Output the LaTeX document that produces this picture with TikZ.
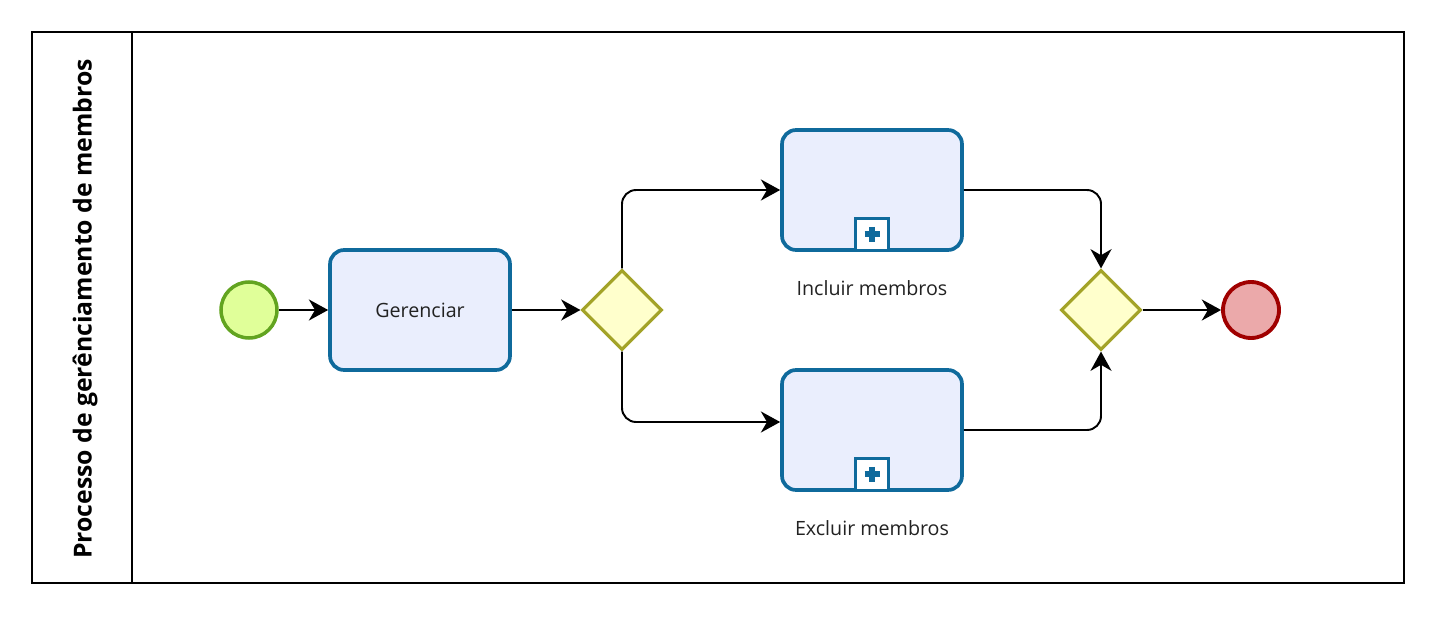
\documentclass[tikz,border=0pt]{standalone}
\usepackage{fontspec}
\setmainfont{Open Sans}
\usepackage{tikz}
\usetikzlibrary{positioning,arrows.meta,shapes.geometric,calc}
\definecolor{taskfill}{HTML}{EAEEFD}
\definecolor{taskline}{HTML}{0F6A9C}
\definecolor{startfill}{HTML}{E0FF99}
\definecolor{startline}{HTML}{62A420}
\definecolor{gatefill}{HTML}{FFFFCC}
\definecolor{gateline}{HTML}{A3A328}
\definecolor{endfill}{HTML}{EBA9AA}
\definecolor{endline}{HTML}{A00000}
\definecolor{txt}{HTML}{222222}
\tikzset{
 bpmn/.style={>={Stealth[length=11pt,width=12pt,inset=3.5pt]},
   line width=1.1pt,
   x=0.02cm, y=-0.02cm},
 task/.style={rectangle,rounded corners=8pt,draw=taskline,fill=taskfill,
   line width=2.1pt,minimum width=3.6cm,minimum height=2.4cm,
   text=txt,font=\fontsize{11.2}{13}\selectfont},
 gateway/.style={diamond,draw=gateline,fill=gatefill,line width=1.8pt,
   minimum size=1.6cm,inner sep=0pt},
 start event/.style={circle,draw=startline,fill=startfill,line width=2pt,
   minimum size=1.12cm,inner sep=0pt},
 end event/.style={circle,draw=endline,fill=endfill,line width=2.2pt,
   minimum size=1.12cm,inner sep=0pt},
 marker/.style={rectangle,draw=taskline,fill=white,line width=1.8pt,
   minimum width=0.66cm,minimum height=0.64cm,inner sep=0pt},
 plus sign/.style={draw=taskline,line width=3.2pt},
 lbl/.style={text=txt,font=\fontsize{11.2}{13}\selectfont},
 pool/.style={draw,line width=1.1pt}
}
\begin{document}
\begin{tikzpicture}[bpmn]
  \useasboundingbox (0,0) rectangle (1436,625);
  % pool and lane header
  \draw[pool] (32,32) rectangle (1404,583);
  \draw[pool] (132,32) -- (132,583);
  \node[rotate=90,font=\bfseries\fontsize{14.1}{16}\selectfont] (title) at (85,309)
    {Processo de gerênciamento de membros};
  % flow objects
  \node[start event] (start) at (249,310) {};
  \node[task] (ger) at (420,310) {Gerenciar};
  \node[gateway] (gw1) at (622,310) {};
  \node[task] (incl) at (872,190) {};
  \node[task] (excl) at (872,430) {};
  \node[gateway] (gw2) at (1101,310) {};
  \node[end event] (end) at (1251,310) {};
  \node[lbl, below=0.44cm of incl] (incl-lbl) {Incluir membros};
  \node[lbl, below=0.44cm of excl] (excl-lbl) {Excluir membros};
  % collapsed sub-process markers
  \foreach \t in {incl,excl}{
    \node[marker, above=0pt of \t.south] (\t-m) {};
    \draw[plus sign] ($(\t-m)+(-7.5,0)$) -- ($(\t-m)+(7.5,0)$);
    \draw[plus sign] ($(\t-m)+(0,-7.5)$) -- ($(\t-m)+(0,7.5)$);
  }
  % sequence flows
  \draw[->] (start) -- (ger);
  \draw[->] (ger) -- (gw1);
  \draw[->,rounded corners=8pt] (gw1.north) |- (incl.west);
  \draw[->,rounded corners=8pt] (gw1.south) |- ($(excl.west)+(0,-8)$);
  \draw[->,rounded corners=8pt] (incl.east) -| (gw2.north);
  \draw[->,rounded corners=8pt] (excl.east) -| (gw2.south);
  \draw[->] (gw2) -- (end);
\end{tikzpicture}
\end{document}
